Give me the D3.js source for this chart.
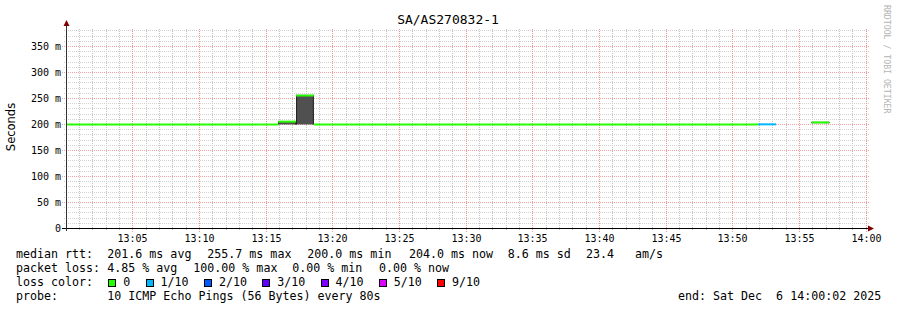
<!DOCTYPE html>
<meta charset="utf-8">
<style>
body { margin: 0; background: #fff; }
svg { display: block; }
.mono { font-family: "DejaVu Sans Mono", monospace; fill: #000; white-space: pre; }
</style>
<body>
<script src="https://d3js.org/d3.v7.min.js"></script>
<script>

// chart values
var title = "SA/AS270832-1";
var yTitle = "Seconds";
var watermark = "RRDTOOL / TOBI OETIKER";

// 80 s rrd steps, first one starting 5 s before 13:00:00 (seconds after 13:00:00)
var stepStart = -5, stepLen = 80;
var median = [200.0, 200.0, 200.0, 200.0, 200.0, 200.0, 200.0, 200.0, 200.0, 200.0,
              200.0, 200.0, 205.5, 255.7, 200.0, 200.0, 200.0, 200.0, 200.0, 200.0,
              200.0, 200.0, 200.0, 200.0, 200.0, 200.0, 200.0, 200.0, 200.0, 200.0,
              200.0, 200.0, 200.0, 200.0, 200.0, 200.0, 200.0, 200.0, 200.0, 200.3,
              null, null, 204.0, null, null];
var loss =   [0, 0, 0, 0, 0, 0, 0, 0, 0, 0,
              0, 0, 0, 0, 0, 0, 0, 0, 0, 0,
              0, 0, 0, 0, 0, 0, 0, 0, 0, 0,
              0, 0, 0, 0, 0, 0, 0, 0, 0, 1,
              10, 10, 0, null, null];
var smokeLo = [200, 200, 200, 200, 200, 200, 200, 200, 200, 200,
               200, 200, 200, 200, 200, 200, 200, 200, 200, 200,
               200, 200, 200, 200, 200, 200, 200, 200, 200, 200,
               200, 200, 200, 200, 200, 200, 200, 200, 200, 200,
               null, null, 202.5, null, null];
var smokeHi = [200, 200, 200, 200, 200, 200, 200, 200, 200, 200,
               200, 200, 206.5, 257, 200, 200, 200, 200, 200, 200,
               200, 200, 200, 200, 200, 200, 200, 200, 200, 200,
               200, 200, 200, 200, 200, 200, 200, 200, 200, 201,
               null, null, 205, null, null];

var xTickLabels = ["13:05", "13:10", "13:15", "13:20", "13:25", "13:30",
                   "13:35", "13:40", "13:45", "13:50", "13:55", "14:00"];
var yTicks = [0, 50, 100, 150, 200, 250, 300, 350];
var yTickLabels = ["0", "50 m", "100 m", "150 m", "200 m", "250 m", "300 m", "350 m"];

var lossLabels = ["0", "1/10", "2/10", "3/10", "4/10", "5/10", "9/10"];
var lossLevels = [0, 1, 2, 3, 4, 5, 9];
var lossColors = ["#26ff00", "#00b8ff", "#0059ff", "#5e00ff", "#7e00ff", "#dd00ff", "#ff0000"];

var medianStats = [["201.6 ms avg", 107.3], ["255.7 ms max", 207.3], ["200.0 ms min", 307.3],
                   ["204.0 ms now", 409], ["8.6 ms sd", 507.7], ["23.4   am/s", 586]];
var lossStats = [["4.85 % avg", 107.3], ["100.00 % max", 193.3], ["0.00 % min", 292.3], ["0.00 % now", 379]];
var probeText = "10 ICMP Echo Pings (56 Bytes) every 80s";
var endText = "end: Sat Dec  6 14:00:02 2025";

// dimensions
var width = 897, height = 310;
var plot = {left: 66.5, right: 866.5, top: 28.5, bottom: 228.5};

var x = d3.scaleLinear().domain([2, 3602]).range([plot.left, plot.right]).clamp(true);
var y = d3.scaleLinear().domain([0, 384.6]).range([plot.bottom, plot.top]);

function snap(v) { return Math.round(v - 0.5) + 0.5; }

var svg = d3.select("body").append("svg")
    .attr("width", width)
    .attr("height", height);

svg.append("rect").attr("width", width).attr("height", height).attr("fill", "#fff");

// grid
var grid = svg.append("g").attr("stroke-width", 1);
var minorX = d3.range(60, 3601, 60).filter(function(t) { return t % 300 !== 0; });
var majorX = d3.range(300, 3601, 300);
var minorY = d3.range(10, 381, 10).filter(function(v) { return v % 50 !== 0; });

grid.selectAll("path.vminor").data(minorX).enter().append("path")
    .attr("class", "vminor")
    .attr("d", function(t) { return "M" + snap(x(t)) + ",29V231"; })
    .attr("stroke", "#c2c2c2")
    .attr("stroke-dasharray", "1 1");
grid.selectAll("path.hminor").data(minorY).enter().append("path")
    .attr("class", "hminor")
    .attr("d", function(v) { return "M64," + snap(y(v)) + "H869"; })
    .attr("stroke", "#d2d2d2")
    .attr("stroke-dasharray", "1 1");
grid.selectAll("path.vmajor").data(majorX).enter().append("path")
    .attr("class", "vmajor")
    .attr("d", function(t) { return "M" + snap(x(t)) + ",29V232"; })
    .attr("stroke", "#ef9494")
    .attr("stroke-dasharray", "1 1");
grid.selectAll("path.hmajor").data(yTicks.slice(1)).enter().append("path")
    .attr("class", "hmajor")
    .attr("d", function(v) { return "M62," + snap(y(v)) + "H869"; })
    .attr("stroke", "#f2a0a0")
    .attr("stroke-dasharray", "1 1");

// samples
var samples = median.map(function(m, i) {
  return {t0: stepStart + i * stepLen, t1: stepStart + (i + 1) * stepLen,
          med: m, loss: loss[i], lo: smokeLo[i], hi: smokeHi[i]};
});

function lossColor(l) {
  var c = lossColors[0];
  lossLevels.forEach(function(lv, i) { if (l >= lv) c = lossColors[i]; });
  return c;
}

// smoke
var smoke = samples.filter(function(d) { return d.hi != null && d.hi - d.lo > 0.5; });
var sg = svg.append("g");
sg.selectAll("rect").data(smoke).enter().append("rect")
    .attr("x", function(d) { return x(d.t0); })
    .attr("width", function(d) { return x(d.t1) - x(d.t0); })
    .attr("y", function(d) { return y(d.hi); })
    .attr("height", function(d) { return y(d.lo) - y(d.hi); })
    .attr("fill", "#505050");
sg.selectAll("line.edgeL").data(smoke).enter().append("line")
    .attr("class", "edgeL")
    .attr("x1", function(d) { return x(d.t0) + 0.5; })
    .attr("x2", function(d) { return x(d.t0) + 0.5; })
    .attr("y1", function(d) { return y(d.hi); })
    .attr("y2", function(d) { return y(d.lo); })
    .attr("stroke", "#222").attr("stroke-width", 1);
sg.selectAll("line.edgeR").data(smoke).enter().append("line")
    .attr("class", "edgeR")
    .attr("x1", function(d) { return x(d.t1) - 0.5; })
    .attr("x2", function(d) { return x(d.t1) - 0.5; })
    .attr("y1", function(d) { return y(d.hi); })
    .attr("y2", function(d) { return y(d.lo); })
    .attr("stroke", "#222").attr("stroke-width", 1);

// median rtt, coloured by loss
var med = samples.filter(function(d) { return d.med != null && d.loss < 10; });
svg.append("g").selectAll("line").data(med).enter().append("line")
    .attr("x1", function(d) { return x(d.t0); })
    .attr("x2", function(d) { return x(d.t1); })
    .attr("y1", function(d) { return y(d.med); })
    .attr("y2", function(d) { return y(d.med); })
    .attr("stroke", function(d) { return lossColor(d.loss); })
    .attr("stroke-width", 2);

// axes
svg.append("line").attr("x1", 62).attr("x2", 869).attr("y1", 228.5).attr("y2", 228.5)
    .attr("stroke", "#000");
svg.append("line").attr("x1", 66.5).attr("x2", 66.5).attr("y1", 231).attr("y2", 24)
    .attr("stroke", "#333");
svg.append("path").attr("d", "M868,225.5 L874,228.5 L868,231.5 Z").attr("fill", "#7f0000");
svg.append("path").attr("d", "M63.5,26 L66.5,20 L69.5,26 Z").attr("fill", "#7f0000");

// tick labels
svg.append("g").selectAll("text").data(majorX).enter().append("text")
    .attr("class", "mono")
    .attr("x", function(t) { return snap(x(t)); })
    .attr("y", 242)
    .attr("text-anchor", "middle")
    .attr("font-size", "10px")
    .text(function(t, i) { return xTickLabels[i]; });
svg.append("g").selectAll("text").data(yTicks).enter().append("text")
    .attr("class", "mono")
    .attr("x", 61)
    .attr("y", function(v) { return snap(y(v)) + 3.5; })
    .attr("text-anchor", "end")
    .attr("font-size", "10px")
    .text(function(v, i) { return yTickLabels[i]; });

// titles
svg.append("text").attr("class", "mono")
    .attr("x", 448).attr("y", 24).attr("text-anchor", "middle")
    .attr("font-size", "13px").text(title);
svg.append("text")
    .attr("transform", "translate(15,127) rotate(-90)")
    .attr("text-anchor", "middle")
    .attr("font-family", "DejaVu Sans, sans-serif")
    .attr("font-size", "11.5px").attr("fill", "#000")
    .text(yTitle);
svg.append("text")
    .attr("transform", "translate(884,5) rotate(90)")
    .attr("font-family", "DejaVu Sans Mono, monospace")
    .attr("font-size", "8.2px").attr("fill", "#b4b4b4")
    .text(watermark);

// legend
var leg = svg.append("g").attr("font-size", "11.65px");
var rows = [258, 272, 286, 300];
leg.append("text").attr("class", "mono").attr("x", 16).attr("y", rows[0]).text("median rtt:");
leg.selectAll("text.ms").data(medianStats).enter().append("text")
    .attr("class", "mono ms").attr("x", function(d) { return d[1]; }).attr("y", rows[0])
    .text(function(d) { return d[0]; });
leg.append("text").attr("class", "mono").attr("x", 16).attr("y", rows[1]).text("packet loss:");
leg.selectAll("text.ls").data(lossStats).enter().append("text")
    .attr("class", "mono ls").attr("x", function(d) { return d[1]; }).attr("y", rows[1])
    .text(function(d) { return d[0]; });
leg.append("text").attr("class", "mono").attr("x", 16).attr("y", rows[2]).text("loss color:");
var cw = 7.0, bx = 108.3;
lossLabels.forEach(function(lab, i) {
  leg.append("rect")
      .attr("x", Math.round(bx) + 0.5).attr("y", 279.5).attr("width", 7).attr("height", 7)
      .attr("fill", lossColors[i]).attr("stroke", "#000").attr("stroke-width", 1);
  leg.append("text").attr("class", "mono").attr("x", bx + 15).attr("y", rows[2]).text(lab);
  bx = bx + 15 + lab.length * cw + 15.3;
});
leg.append("text").attr("class", "mono").attr("x", 16).attr("y", rows[3]).text("probe:");
leg.append("text").attr("class", "mono").attr("x", 107.3).attr("y", rows[3]).text(probeText);
leg.append("text").attr("class", "mono").attr("x", 678).attr("y", rows[3]).text(endText);

</script>
</body>
